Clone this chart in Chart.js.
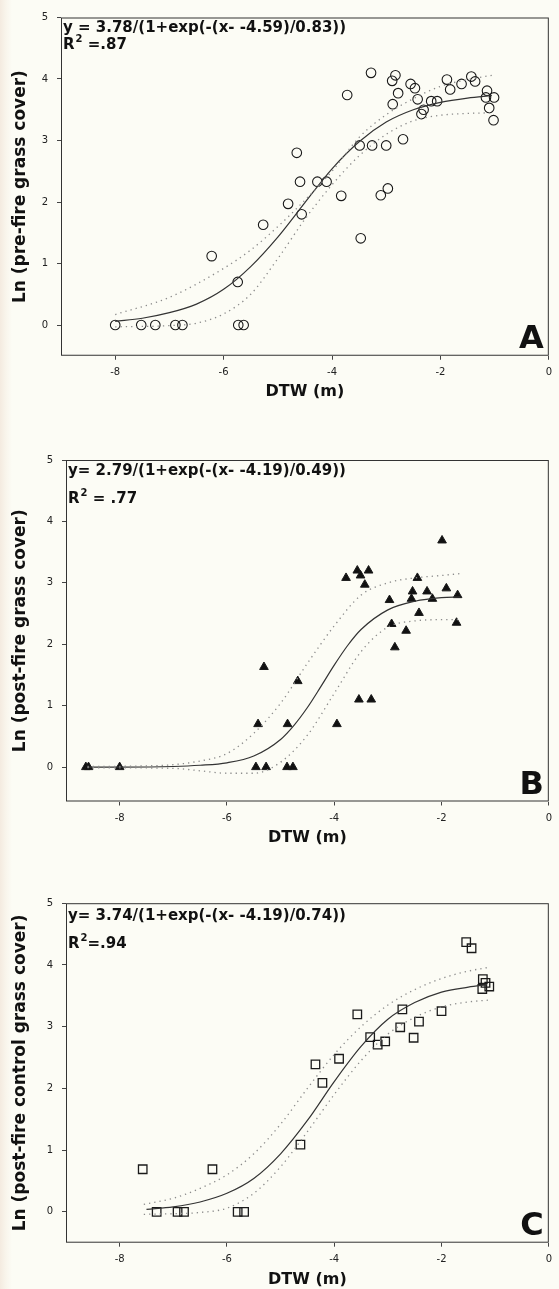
<!DOCTYPE html>
<html>
<head>
<meta charset="utf-8">
<title>Grass cover vs DTW</title>
<script src="https://cdn.jsdelivr.net/npm/chart.js@4.4.1/dist/chart.umd.min.js"></script>
<style>
    body {
        margin: 0; width: 559px; height: 1289px; position: relative; overflow: hidden;
        background: linear-gradient(to right, #f4ebe0 0px, #f9f5ec 6px, #fcfcf5 12px);
    }
    canvas { position: absolute; left: 0; }
</style>
</head>
<body>
<canvas id="chartA" width="559" height="415" style="top:0px"></canvas>
<canvas id="chartB" width="559" height="430" style="top:425px"></canvas>
<canvas id="chartC" width="559" height="429" style="top:860px"></canvas>
<script>
// axis ticks
const xTicks = [-8, -6, -4, -2, 0];
const yTicks = [0, 1, 2, 3, 4, 5];

// A: pre-fire grass cover
const preX = [-3.28, -3.72, -4.65, -4.59, -4.27, -4.10, -3.83, -3.49, -3.26, -3.00, -3.10, -2.97, -2.69, -2.83, -2.89, -2.78, -2.88, -2.55, -2.47, -2.42, -2.35, -2.31, -2.17, -2.06, -1.88, -1.82, -1.61, -1.43, -1.36, -1.14, -1.16, -1.01, -1.10, -1.02, -4.81, -4.56, -5.27, -6.22, -5.74, -3.47, -8.00, -7.52, -7.26, -6.89, -6.76, -5.73, -5.63];
const preY = [4.10, 3.74, 2.80, 2.33, 2.33, 2.33, 2.10, 2.92, 2.92, 2.92, 2.11, 2.22, 3.02, 4.06, 3.97, 3.77, 3.59, 3.92, 3.85, 3.67, 3.43, 3.50, 3.64, 3.64, 3.99, 3.83, 3.92, 4.04, 3.96, 3.81, 3.70, 3.70, 3.53, 3.33, 1.97, 1.80, 1.63, 1.12, 0.70, 1.41, 0, 0, 0, 0, 0, 0, 0];
const preFitX = [-8, -7.5, -7, -6.5, -6, -5.5, -5, -4.5, -4, -3.5, -3, -2.5, -2, -1.5, -1.05];
const preFitY = [0.06, 0.11, 0.20, 0.34, 0.58, 0.95, 1.43, 1.99, 2.54, 2.98, 3.30, 3.50, 3.62, 3.69, 3.73];
const preUpX = [-8, -7, -6, -5.5, -5, -4.5, -4, -3.5, -3, -2.5, -2, -1.5, -1.05];
const preUpY = [0.17, 0.45, 0.92, 1.22, 1.60, 2.03, 2.50, 3.05, 3.42, 3.68, 3.88, 3.99, 4.06];
const preLoX = [-8, -7, -6.5, -6, -5.5, -5, -4.5, -4, -3.5, -3, -2.5, -2, -1.5, -1.05];
const preLoY = [-0.03, -0.01, 0.03, 0.18, 0.50, 1.08, 1.72, 2.28, 2.75, 3.10, 3.32, 3.41, 3.44, 3.45];

// B: post-fire grass cover
const postX = [-3.78, -3.57, -3.51, -3.36, -3.43, -2.97, -2.45, -1.99, -2.54, -2.56, -2.27, -2.17, -1.91, -1.70, -2.42, -2.93, -2.66, -1.72, -2.87, -5.31, -4.68, -5.42, -4.87, -3.95, -3.54, -3.31, -8.63, -8.58, -8.00, -5.46, -5.27, -4.88, -4.77];
const postY = [3.08, 3.20, 3.12, 3.20, 2.97, 2.72, 3.08, 3.69, 2.86, 2.74, 2.86, 2.74, 2.91, 2.80, 2.51, 2.33, 2.22, 2.35, 1.95, 1.63, 1.40, 0.70, 0.70, 0.70, 1.10, 1.10, 0, 0, 0, 0, 0, 0, 0];
const postFitX = [-8.6, -8, -7, -6.5, -6, -5.5, -5, -4.75, -4.5, -4.25, -4, -3.75, -3.5, -3, -2.5, -2, -1.65];
const postFitY = [0, 0, 0.01, 0.03, 0.07, 0.18, 0.45, 0.68, 0.97, 1.31, 1.66, 1.98, 2.24, 2.56, 2.70, 2.76, 2.77];
const postUpX = [-8.6, -7.5, -7, -6.5, -6, -5.5, -5, -4.5, -4, -3.5, -3, -2.5, -2, -1.65];
const postUpY = [0.01, 0.02, 0.04, 0.10, 0.22, 0.55, 1.04, 1.69, 2.30, 2.80, 3.00, 3.08, 3.12, 3.15];
const postLoX = [-8.6, -7, -6.5, -6, -5.5, -5, -4.5, -4, -3.5, -3, -2.5, -2, -1.65];
const postLoY = [-0.01, -0.02, -0.06, -0.10, -0.10, 0.08, 0.52, 1.20, 1.88, 2.28, 2.38, 2.40, 2.40];

// C: post-fire control grass cover
const ctrlX = [-1.54, -1.44, -1.23, -1.18, -1.24, -1.11, -3.57, -2.73, -2.00, -2.42, -2.77, -3.33, -3.19, -3.05, -2.52, -3.91, -4.35, -4.22, -4.63, -7.57, -6.27, -7.31, -6.92, -6.80, -5.80, -5.68];
const ctrlY = [4.37, 4.27, 3.77, 3.71, 3.61, 3.65, 3.20, 3.28, 3.25, 3.08, 2.99, 2.83, 2.71, 2.76, 2.82, 2.48, 2.39, 2.09, 1.09, 0.69, 0.69, 0, 0, 0, 0, 0];
const ctrlFitX = [-7.5, -7, -6.5, -6, -5.5, -5, -4.5, -4, -3.5, -3, -2.5, -2, -1.5, -1.15];
const ctrlFitY = [0.04, 0.08, 0.16, 0.30, 0.54, 0.94, 1.48, 2.11, 2.68, 3.12, 3.39, 3.56, 3.64, 3.68];
const ctrlUpX = [-7.55, -7, -6.5, -6, -5.5, -5, -4.5, -4, -3.5, -3, -2.5, -2, -1.5, -1.12];
const ctrlUpY = [0.12, 0.22, 0.38, 0.60, 0.94, 1.42, 2.00, 2.55, 3.00, 3.35, 3.60, 3.78, 3.90, 3.96];
const ctrlLoX = [-7.55, -7, -6.5, -6, -5.5, -5, -4.5, -4, -3.5, -3, -2.5, -2, -1.5, -1.12];
const ctrlLoY = [-0.04, -0.03, -0.01, 0.06, 0.30, 0.73, 1.30, 1.90, 2.45, 2.88, 3.15, 3.32, 3.40, 3.43];

const FONT = 'DejaVu Sans';
const pts = (xs, ys) => xs.map((x, i) => ({ x: x, y: ys[i] }));

// frame box + equation, R2 and panel letter
const panelText = {
    id: 'panelText',
    afterDraw(chart, args, opts) {
        const ctx = chart.ctx;
        const a = chart.chartArea;
        ctx.save();
        ctx.strokeStyle = '#333';
        ctx.lineWidth = 1;
        ctx.strokeRect(a.left + 0.5, a.top + 0.5, a.right - a.left - 1, a.bottom - a.top - 1);

        ctx.fillStyle = '#111';
        ctx.textBaseline = 'alphabetic';
        ctx.textAlign = 'left';
        ctx.font = 'bold 15px "' + FONT + '"';
        const x0 = a.left + 2;
        ctx.fillText(opts.eq, x0, a.top + opts.eqDy);

        const ry = a.top + opts.r2Dy;
        ctx.fillText('R', x0, ry);
        const wR = ctx.measureText('R').width;
        ctx.font = 'bold 10px "' + FONT + '"';
        ctx.fillText('2', x0 + wR + 1, ry - 7);
        const w2 = ctx.measureText('2').width;
        ctx.font = 'bold 15px "' + FONT + '"';
        ctx.fillText(opts.r2, x0 + wR + w2 + 1, ry);

        ctx.font = 'bold 32px "' + FONT + '"';
        ctx.textAlign = 'right';
        ctx.fillText(opts.letter, a.right - 5, a.bottom - 8);
        ctx.restore();
    }
};

function makePanel(id, p) {
    const canvasH = document.getElementById(id).height;
    const datasets = [
        {
            data: pts(p.upX, p.upY), showLine: true, pointRadius: 0,
            borderColor: '#8c8c8c', borderWidth: 1.3, borderDash: [1.3, 4],
            cubicInterpolationMode: 'monotone'
        },
        {
            data: pts(p.loX, p.loY), showLine: true, pointRadius: 0,
            borderColor: '#8c8c8c', borderWidth: 1.3, borderDash: [1.3, 4],
            cubicInterpolationMode: 'monotone'
        },
        {
            data: pts(p.fitX, p.fitY), showLine: true, pointRadius: 0,
            borderColor: '#333', borderWidth: 1.2,
            cubicInterpolationMode: 'monotone'
        },
        {
            data: pts(p.x, p.y), showLine: false,
            pointStyle: p.marker, pointRadius: p.radius,
            pointBackgroundColor: p.fill, pointBorderColor: '#1a1a1a',
            pointBorderWidth: p.borderW
        }
    ];

    return new Chart(document.getElementById(id), {
        type: 'scatter',
        data: { datasets: datasets },
        options: {
            responsive: false,
            animation: false,
            layout: { padding: { top: p.top, right: 559 - p.right, left: 0, bottom: 0 } },
            plugins: {
                legend: { display: false },
                tooltip: { enabled: false },
                panelText: { eq: p.eq, r2: p.r2, letter: p.letter, eqDy: p.eqDy, r2Dy: p.r2Dy }
            },
            scales: {
                x: {
                    type: 'linear', min: -9, max: 0,
                    afterBuildTicks: s => { s.ticks = xTicks.map(v => ({ value: v })); },
                    afterFit: s => { s.height = canvasH - p.bottom; },
                    grid: { drawOnChartArea: false, drawTicks: true, tickLength: 4, color: '#444' },
                    border: { display: false },
                    ticks: { font: { family: FONT, size: 10 }, color: '#222', padding: 7, maxRotation: 0 },
                    title: {
                        display: true, text: 'DTW (m)', color: '#111',
                        font: { family: FONT, size: 16, weight: 'bold' },
                        padding: { top: 0, bottom: p.xTitlePad }
                    }
                },
                y: {
                    type: 'linear', min: p.yMin, max: 5,
                    afterBuildTicks: s => { s.ticks = yTicks.map(v => ({ value: v })); },
                    afterFit: s => { s.width = p.left; },
                    grid: { drawOnChartArea: false, drawTicks: true, tickLength: 4, color: '#444' },
                    border: { display: false },
                    ticks: { font: { family: FONT, size: 10 }, color: '#222', padding: 9 },
                    title: {
                        display: true, text: p.yTitle, color: '#111',
                        font: { family: FONT, size: 17, weight: 'bold' },
                        padding: { top: 10, bottom: 0 }
                    }
                }
            }
        },
        plugins: [panelText]
    });
}

makePanel('chartA', {
    x: preX, y: preY, fitX: preFitX, fitY: preFitY,
    upX: preUpX, upY: preUpY, loX: preLoX, loY: preLoY,
    marker: 'circle', radius: 4.8, fill: 'rgba(0,0,0,0)', borderW: 1.1,
    top: 17.5, bottom: 355.75, left: 61, right: 553, yMin: -0.5, xTitlePad: 14,
    yTitle: 'Ln (pre-fire grass cover)',
    eq: 'y = 3.78/(1+exp(-(x- -4.59)/0.83))', r2: ' =.87', letter: 'A', eqDy: 14, r2Dy: 31
});

makePanel('chartB', {
    x: postX, y: postY, fitX: postFitX, fitY: postFitY,
    upX: postUpX, upY: postUpY, loX: postLoX, loY: postLoY,
    marker: 'triangle', radius: 5, fill: '#111', borderW: 1,
    top: 35, bottom: 376.5, left: 66, right: 553, yMin: -0.56, xTitlePad: 8,
    yTitle: 'Ln (post-fire grass cover)',
    eq: 'y= 2.79/(1+exp(-(x- -4.19)/0.49))', r2: ' = .77', letter: 'B', eqDy: 15, r2Dy: 43
});

makePanel('chartC', {
    x: ctrlX, y: ctrlY, fitX: ctrlFitX, fitY: ctrlFitY,
    upX: ctrlUpX, upY: ctrlUpY, loX: ctrlLoX, loY: ctrlLoY,
    marker: 'rect', radius: 6, fill: 'rgba(0,0,0,0)', borderW: 1.3,
    top: 43.2, bottom: 382.7, left: 66, right: 553, yMin: -0.5, xTitlePad: 0,
    yTitle: 'Ln (post-fire control grass cover)',
    eq: 'y= 3.74/(1+exp(-(x- -4.19)/0.74))', r2: '=.94', letter: 'C', eqDy: 17, r2Dy: 45
});
</script>
</body>
</html>
